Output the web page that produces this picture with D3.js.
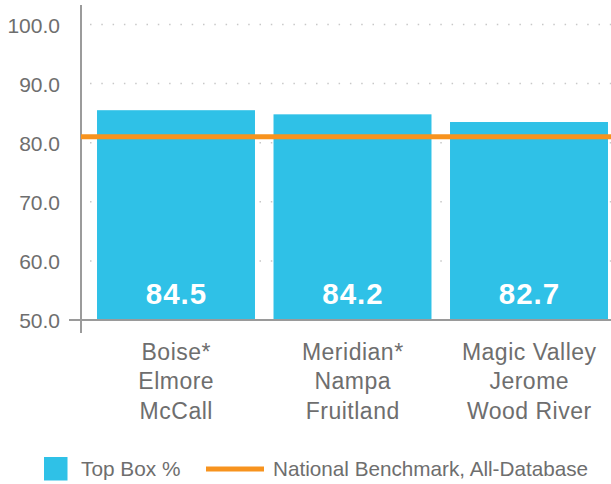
<!DOCTYPE html>
<html>
<head>
<meta charset="utf-8">
<script src="https://cdn.jsdelivr.net/npm/d3@7"></script>
<style>
  html, body { margin: 0; padding: 0; background: #fff; }
  svg { display: block; font-family: "Liberation Sans", Arial, Helvetica, sans-serif; }
</style>
</head>
<body>
<svg id="chart" width="611" height="484"></svg>
<script>
// ---- data ----
const categories = [
  ["Boise*", "Elmore", "McCall"],
  ["Meridian*", "Nampa", "Fruitland"],
  ["Magic Valley", "Jerome", "Wood River"]
];
const barValues = [85.5, 84.8, 83.5];           // bar heights as drawn
const valueLabels = ["84.5", "84.2", "82.7"];   // printed labels
const benchmark = 81.0;
const yTicks = [50, 60, 70, 80, 90, 100];
const legendLabels = ["Top Box %", "National Benchmark, All-Database"];

// ---- styles ----
const barColor = "#2FC1E7";
const lineColor = "#F7931E";
const textColor = "#6E6E6E";

const svg = d3.select("#chart");
const W = 611;

const y = d3.scaleLinear().domain([50, 100]).range([320, 24.5]);
const x = d3.scaleBand()
  .domain(d3.range(categories.length))
  .range([87.75, 617.25])
  .paddingInner(0.105)
  .paddingOuter(0.0525);

const axisX = 81;

// gridlines (dotted)
svg.append("g").selectAll("line")
  .data(yTicks.filter(d => d > 50))
  .join("line")
  .attr("x1", axisX + 9).attr("x2", W)
  .attr("y1", d => y(d)).attr("y2", d => y(d))
  .attr("stroke", "#C8C8C8")
  .attr("stroke-width", 1.5)
  .attr("stroke-dasharray", "1.5 9.8");

// bars
svg.append("g").selectAll("rect")
  .data(barValues)
  .join("rect")
  .attr("x", (d, i) => x(i))
  .attr("width", x.bandwidth())
  .attr("y", d => y(d))
  .attr("height", d => y(50) - y(d))
  .attr("fill", barColor);

// value labels
const vls = 1;
svg.append("g").selectAll("text")
  .data(valueLabels)
  .join("text")
  .attr("x", (d, i) => x(i) + x.bandwidth() / 2 + vls / 2)
  .attr("y", 304)
  .attr("text-anchor", "middle")
  .attr("fill", "#fff")
  .attr("font-weight", "bold")
  .attr("font-size", 29.5)
  .attr("letter-spacing", vls)
  .text(d => d);

// y axis via d3
const yAxis = d3.axisLeft(y)
  .tickValues(yTicks)
  .tickFormat(d3.format(".1f"))
  .tickSize(0)
  .tickPadding(21);
const ya = svg.append("g").attr("transform", `translate(${axisX},0)`).call(yAxis);
ya.select(".domain").remove();
ya.selectAll("text")
  .attr("font-size", 21)
  .attr("fill", textColor)
  .attr("font-family", "'Liberation Sans', Arial, sans-serif")
  .attr("dy", "0.36em");

// axis line
svg.append("line")
  .attr("x1", axisX).attr("x2", axisX)
  .attr("y1", 5).attr("y2", 333)
  .attr("stroke", "#7A7A7A").attr("stroke-width", 1.5);

// baseline
svg.append("line")
  .attr("x1", 69).attr("x2", W)
  .attr("y1", y(50)).attr("y2", y(50))
  .attr("stroke", "#9A9A9A").attr("stroke-width", 2);

// benchmark line
svg.append("line")
  .attr("x1", axisX).attr("x2", W)
  .attr("y1", y(benchmark)).attr("y2", y(benchmark))
  .attr("stroke", lineColor).attr("stroke-width", 5);

// category labels
const cls = 0.5;
const cat = svg.append("g").selectAll("text")
  .data(categories)
  .join("text")
  .attr("text-anchor", "middle")
  .attr("fill", textColor)
  .attr("font-size", 23)
  .attr("letter-spacing", cls);
cat.each(function(lines, i) {
  d3.select(this).selectAll("tspan")
    .data(lines)
    .join("tspan")
    .attr("x", x(i) + x.bandwidth() / 2 + cls / 2)
    .attr("y", (d, j) => 359.5 + j * 29.5)
    .text(d => d);
});

// legend
const lg = svg.append("g");
lg.append("rect").attr("x", 44).attr("y", 457).attr("width", 23.5).attr("height", 23.5).attr("fill", barColor);
lg.append("text").attr("x", 81).attr("y", 476).attr("font-size", 20.8).attr("fill", textColor).text(legendLabels[0]);
lg.append("line").attr("x1", 206).attr("x2", 264).attr("y1", 469).attr("y2", 469)
  .attr("stroke", lineColor).attr("stroke-width", 5);
lg.append("text").attr("x", 273).attr("y", 476).attr("font-size", 20.7).attr("fill", textColor).text(legendLabels[1]);
</script>
</body>
</html>
